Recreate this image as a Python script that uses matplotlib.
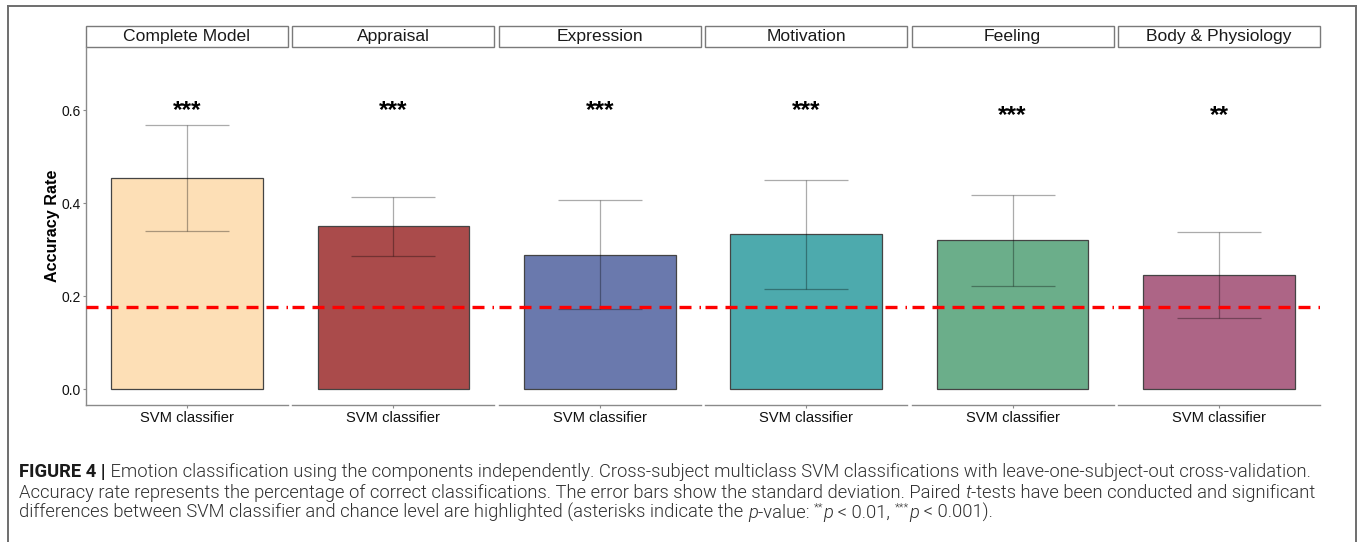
import matplotlib
matplotlib.use("Agg")
import matplotlib.pyplot as plt
from matplotlib import font_manager
from matplotlib.patches import Rectangle
from matplotlib.lines import Line2D
import matplotlib.transforms as mtransforms

# ---------------- data ----------------
components = ["Complete Model", "Appraisal", "Expression", "Motivation", "Feeling", "Body & Physiology"]
x_label = "SVM classifier"
accuracy = [0.454, 0.350, 0.289, 0.333, 0.320, 0.245]
sd = [0.114, 0.063, 0.117, 0.117, 0.098, 0.092]
significance = ["***", "***", "***", "***", "***", "**"]
sig_y = [0.616, 0.616, 0.616, 0.616, 0.604, 0.604]
chance_level = 0.177
yticks = [0.0, 0.2, 0.4, 0.6]
bar_colors = ["#FDDFB6", "#AA4B4B", "#6A79AD", "#4DAAAD", "#6BAE8A", "#AD6586"]

W, H = 1362, 542
fig = plt.figure(figsize=(W / 100, H / 100), dpi=100)

fl = font_manager.fontManager.ttflist
names = {f.name for f in fl}
main_font = "Liberation Sans" if "Liberation Sans" in names else "DejaVu Sans"
cap_font = "Roboto" if "Roboto" in names else main_font
light_ok = any(f.name == cap_font and f.weight == 300 for f in fl)

def fx(px):
    return px / W

def fy(py):
    return 1 - py / H

# outer border (three sides)
border_col = "#6e6e6e"
fig.add_artist(Line2D([fx(8), fx(8)], [fy(6), 0], transform=fig.transFigure, color=border_col, lw=1.4))
fig.add_artist(Line2D([fx(1356), fx(1356)], [fy(6), 0], transform=fig.transFigure, color=border_col, lw=1.4))
fig.add_artist(Line2D([fx(8), fx(1356)], [fy(6), fy(6)], transform=fig.transFigure, color=border_col, lw=1.4))

panel_left0 = 86
panel_step = 206.4
panel_w = 202
panel_top = 47
panel_bottom = 405
strip_h = 21
ylim = (-0.0344, 0.7355)
axis_col = "#8a8a8a"

for i, comp in enumerate(components):
    ax = fig.add_axes([fx(panel_left0 + i * panel_step), fy(panel_bottom),
                       panel_w / W, (panel_bottom - panel_top) / H])
    ax.set_xlim(0.4, 1.6)
    ax.set_ylim(*ylim)
    ax.bar([1], [accuracy[i]], width=0.9, color=bar_colors[i], edgecolor="#444444",
           linewidth=0.9, zorder=2)
    ax.errorbar([1], [accuracy[i]], yerr=[sd[i]], fmt="none", ecolor="black",
                elinewidth=0.9, capsize=0, alpha=0.33, zorder=3)
    for yv in (accuracy[i] - sd[i], accuracy[i] + sd[i]):
        ax.plot([0.75, 1.25], [yv, yv], color="black", lw=0.9, alpha=0.33, zorder=3,
                solid_capstyle="butt")
    ax.axhline(chance_level, color="#ff0000", lw=2.4, dashes=(3.6, 2.4), zorder=4)
    fs_sig = 17.5
    off = mtransforms.offset_copy(ax.transData, fig=fig, x=0, y=-0.58 * fs_sig, units="points")
    ax.text(1, sig_y[i], significance[i], ha="center", va="baseline", fontsize=fs_sig,
            fontweight="bold", family=main_font, color="black", transform=off)

    for s in ["top", "right"]:
        ax.spines[s].set_visible(False)
    ax.spines["bottom"].set_color(axis_col)
    ax.spines["bottom"].set_linewidth(1.0)
    ax.set_xticks([1])
    ax.set_xticklabels([x_label], fontsize=10.6, family=main_font, color="#111111")
    ax.tick_params(axis="x", length=2.5, color=axis_col, pad=1.5)
    if i == 0:
        ax.spines["left"].set_color(axis_col)
        ax.spines["left"].set_linewidth(1.0)
        ax.set_yticks(yticks)
        ax.set_yticklabels([f"{v:.1f}" for v in yticks], fontsize=10, family=main_font,
                           color="#111111")
        ax.tick_params(axis="y", length=2.5, color=axis_col, pad=1.5)
        ax.set_ylabel("Accuracy Rate", fontsize=11.6, fontweight="bold", family=main_font,
                      labelpad=1)
    else:
        ax.spines["left"].set_visible(False)
        ax.set_yticks([])
    ax.set_facecolor("none")

    sh = strip_h / (panel_bottom - panel_top)
    ax.add_patch(Rectangle((0, 1), 1, sh, transform=ax.transAxes, facecolor="white",
                           edgecolor="#7a7a7a", lw=1.0, clip_on=False))
    ax.text(0.5, 1 + sh / 2, comp, transform=ax.transAxes, ha="center", va="center",
            fontsize=12.6, family=main_font, color="#1a1a1a")

# ---------------- caption ----------------
renderer = fig.canvas.get_renderer()

line1 = [("FIGURE 4 |", "bold"), (" Emotion classification using the components independently. Cross-subject multiclass SVM classifications with leave-one-subject-out cross-validation.", "normal")]
line2 = [("Accuracy rate represents the percentage of correct classifications. The error bars show the standard deviation. Paired ", "normal"), ("t", "italic"), ("-tests have been conducted and significant", "normal")]
line3 = [("differences between SVM classifier and chance level are highlighted (asterisks indicate the ", "normal"), ("p", "italic"), ("-value: ", "normal"), ("**", "sup"), ("p", "italic"), (" < 0.01, ", "normal"), ("***", "sup"), ("p", "italic"), (" < 0.001).", "normal")]

cap_col = "#2e2e2e"

def props(style, size):
    p = dict(family=cap_font, fontsize=size, color=cap_col,
             fontweight=300 if light_ok else "normal")
    if style == "bold":
        p["fontweight"] = "bold"
        p["color"] = "#1a1a1a"
    elif style == "italic":
        p["fontstyle"] = "italic"
    elif style == "sup":
        p["fontsize"] = size * 0.62
    return p

def measure(s, style, size):
    t1 = fig.text(0, 0, "|" + s + "|", **props(style, size))
    t2 = fig.text(0, 0, "||", **props(style, size))
    w = t1.get_window_extent(renderer).width - t2.get_window_extent(renderer).width
    t1.remove(); t2.remove()
    return w

def line_width(segs, size):
    return sum(measure(s, st, size) for s, st in segs)

x_start = 19
target = 1310 - x_start
base = 10.0
size = base * target / line_width(line2, base)

def draw(segs, ypx, size):
    x = x_start
    for s, st in segs:
        p = props(st, size)
        yy = ypx
        if st == "sup":
            yy = ypx - 0.40 * size * 100 / 72
        fig.text(fx(x), fy(yy), s, ha="left", va="baseline", **p)
        x += measure(s, st, size)

asc = 0.36 * size * 100 / 72
draw(line1, 470 + asc, size)
draw(line2, 491 + asc, size)
draw(line3, 511 + asc, size)

fig.savefig("out.png", dpi=100)
